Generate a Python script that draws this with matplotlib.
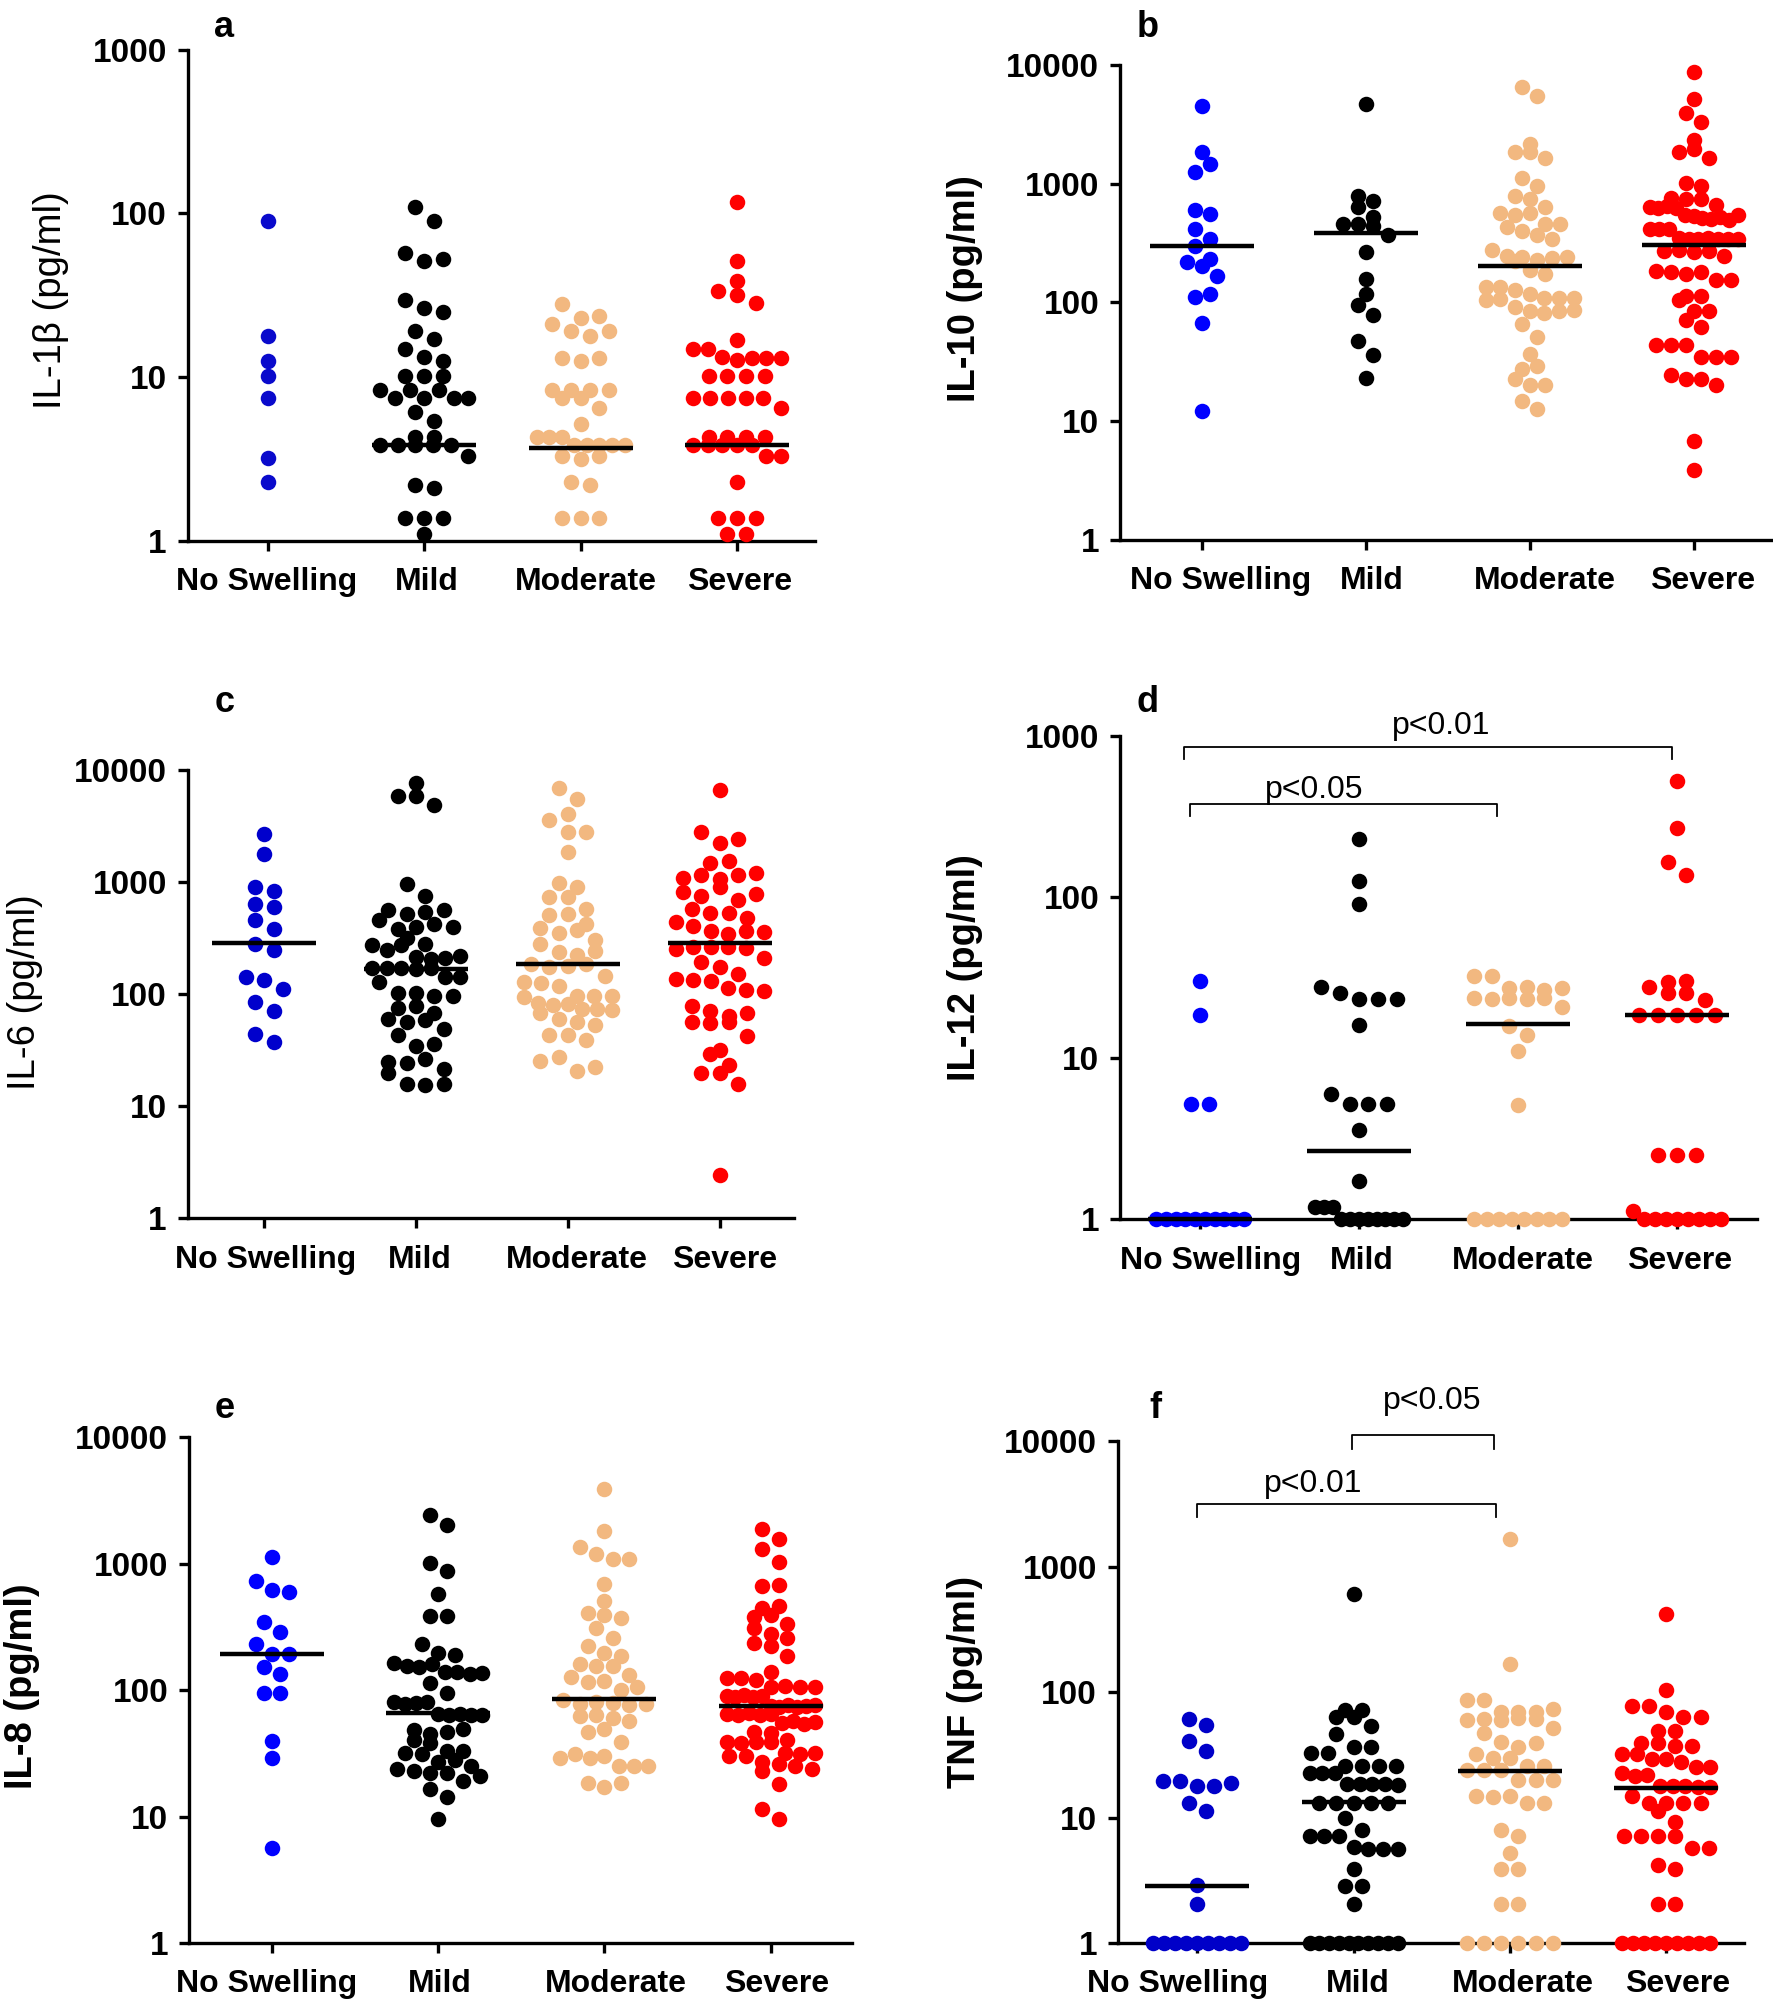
import numpy as np
import matplotlib
matplotlib.use("Agg")
import matplotlib.pyplot as plt
from matplotlib.ticker import NullLocator
from matplotlib.transforms import ScaledTranslation

plt.rcParams['font.family'] = ['Liberation Sans', 'DejaVu Sans']

# ---------------- data ----------------
categories = ["No Swelling", "Mild", "Moderate", "Severe"]

# a: IL-1beta
a_none = [90, 17.9, 12.6, 10.1, 7.5, 3.2, 2.3]
a_mild = [109, 90, 57, 51, 53, 29.6, 26.4, 25, 19, 17, 14.8, 13.3, 12.6, 10.2, 10.2, 10.2,
          8.3, 7.5, 8.3, 7.5, 8.3, 7.5, 7.5, 6.1, 5.4, 3.85, 3.85, 4.3, 3.85, 4.3, 3.85, 3.85,
          3.3, 2.2, 2.1, 1.38, 1.38, 1.38, 1.1]
a_mod = [27.9, 23, 23.6, 21, 19, 17.9, 19, 13.1, 12.6, 13.1, 8.3, 8.3, 8.3, 8.3, 7.5, 7.5,
         6.5, 5.15, 4.3, 4.3, 4.3, 3.85, 3.85, 3.85, 3.85, 3.85, 3.3, 3.15, 3.3, 2.3, 2.2,
         1.38, 1.38, 1.38]
a_sev = [118, 51, 38.7, 33.4, 31.6, 28.3, 16.8, 14.8, 14.8, 13.2, 12.7, 13, 13, 13,
         10.2, 10.2, 10.2, 10.2, 7.5, 7.5, 7.5, 7.5, 7.5, 6.5, 4.3, 4.3, 4.3, 4.3,
         3.85, 3.85, 3.85, 3.85, 3.85, 3.3, 3.3, 2.3, 1.38, 1.38, 1.38, 1.1, 1.1]
a_median = [None, 3.85, 3.7, 3.85]

# b: IL-10
b_none = [4570, 1866, 1257, 1463, 602, 554, 418, 346, 297, 233, 219, 203, 168, 111, 118, 67.6, 12.1]
b_mild = [4710, 797, 711, 635, 525, 461, 461, 441, 373, 265, 159, 118, 95, 78.7, 47, 36, 23]
b_mod = [6580, 5520, 2170, 1866, 1866, 1640, 1122, 964, 785, 750, 635, 566, 545, 566, 461, 461,
         434, 403, 373, 346, 275, 246, 240, 230, 225, 235, 240, 188, 175, 134, 134, 128, 118,
         110, 105, 108, 106, 110, 91.5, 85, 82, 85, 87, 66, 50.7, 36.8, 27.2, 29.3, 22.8,
         20, 20, 14.8, 12.6]
b_sev = [8710, 5240, 3925, 3320, 2340, 1866, 1950, 1640, 1016, 964, 760, 740, 750, 660, 640,
         620, 650, 630, 550, 540, 520, 510, 530, 500, 545, 420, 420, 420, 350, 345, 340, 350,
         345, 340, 345, 270, 275, 265, 270, 245, 185, 180, 175, 180, 155, 155, 113, 113, 105,
         85, 85, 71, 62, 44, 44, 44, 35, 35, 35, 24.5, 22.8, 22.8, 20, 6.8, 3.9]
b_median = [302, 387, 203, 308]

# c: IL-6
c_none = [2690, 1800, 914, 843, 644, 598, 464, 382, 280, 247, 142, 134, 112, 85.6, 71.6, 43.8, 37.2]
c_mild = [7760, 5830, 5830, 4870, 968, 758, 560, 520, 540, 570, 464, 380, 395, 420, 400, 321,
          284, 273, 250, 273, 215, 205, 210, 220, 170, 172, 170, 168, 170, 143, 143, 129, 103,
          103, 97, 97, 76, 78.6, 68.7, 60, 57, 59, 43.5, 49, 34.9, 36, 25, 24.2, 26.6, 21.7,
          19.7, 15.8, 15.4, 15.8]
c_mod = [6920, 5510, 4070, 3570, 2800, 2800, 1875, 976, 899, 733, 733, 583, 505, 520, 394, 421,
         349, 372, 284, 303, 240, 222, 243, 185, 175, 180, 188, 146, 129, 126, 119, 97, 97, 97,
         95, 83, 80, 82, 74.6, 74.6, 72, 68, 60.3, 56.9, 53.3, 43.5, 43.5, 38.8, 25.6, 27.3,
         20.5, 22.3]
c_sev = [6650, 2800, 2245, 2435, 1490, 1560, 1100, 1150, 1080, 1150, 1200, 820, 760, 900, 700,
         780, 583, 537, 537, 476, 440, 405, 370, 345, 370, 360, 255, 265, 265, 265, 258, 210,
         195, 175, 152, 136, 134, 131, 114, 109, 107, 79, 71, 64, 68, 57, 55, 57, 42.8, 29.6,
         32.1, 23.6, 19.7, 19.7, 15.8, 2.45]
c_median = [287, 169, 186, 287]

# d: IL-12
d_none = [29.9, 18.6, 5.16, 5.16, 1, 1, 1, 1, 1, 1, 1, 1, 1, 1]
d_mild = [229, 126, 89.6, 27.7, 25.4, 23.3, 23.3, 23.3, 16.1, 5.94, 5.16, 5.16, 5.16, 3.57,
          1.73, 1.19, 1.19, 1.19, 1, 1, 1, 1, 1, 1, 1, 1]
d_mod = [32.2, 32.2, 27, 27.5, 26.5, 27, 23.5, 23.2, 23.5, 23.2, 23.5, 20.7, 15.9, 13.9, 11,
         5.1, 1, 1, 1, 1, 1, 1, 1, 1]
d_sev = [520, 266, 165, 137, 29.6, 30, 27.7, 25.4, 25.4, 23, 18.6, 18.6, 18.6, 18.6, 18.6,
         2.5, 2.5, 2.5, 1.12, 1, 1, 1, 1, 1, 1, 1, 1]
d_median = [1.0, 2.65, 16.3, 18.6]

# e: IL-8
e_none = [1130, 730, 614, 591, 343, 286, 233, 194, 194, 151, 133, 94, 94, 39.9, 29, 5.6]
e_mild = [2440, 2020, 1013, 876, 570, 388, 388, 233, 198, 188, 165, 155, 153, 160, 138, 140,
          135, 137, 113, 95, 80, 78, 79, 80, 65, 63, 65, 64, 63, 48, 45, 47, 49, 40, 38, 33,
          32, 33, 31, 27, 28, 25, 24, 23, 22, 22, 19, 21, 16.4, 14.2, 9.5]
e_mod = [3917, 1811, 1355, 1200, 1090, 1090, 684, 508, 408, 395, 369, 307, 257, 225, 196, 185,
         160, 155, 154, 128, 131, 116, 118, 100, 105, 84, 78, 80, 79, 76, 77, 62, 63, 60, 57,
         47, 49, 39, 29, 31, 29, 30, 25, 25, 25, 18.3, 17, 18.3]
e_sev = [1880, 1566, 1306, 1021, 660, 675, 445, 465, 375, 390, 310, 335, 279, 257, 234, 225,
         187, 140, 125, 125, 120, 106, 107, 105, 106, 90, 88, 92, 88, 90, 75, 74, 76, 74, 75,
         76, 65, 64, 66, 64, 65, 55, 57, 54, 56, 47, 46, 39, 38, 39, 40, 39, 30, 32, 31, 32,
         30, 27, 26, 25, 23, 24, 18, 11.4, 9.5]
e_median = [194, 66.3, 84.3, 74.5]

# f: TNF
f_none = [61.4, 54.2, 41, 34.2, 19.4, 19.4, 17.8, 17.8, 18.8, 13, 11.2, 2.9, 2.05,
          1, 1, 1, 1, 1, 1, 1, 1, 1]
f_mild = [600, 72, 72, 62.8, 62.8, 54, 46, 36.8, 36.8, 32.5, 32.5, 26, 26, 26, 26, 22.5, 22.5,
          22.5, 18.5, 18.5, 18.5, 18.5, 18.2, 13, 13, 13, 13, 13, 10, 8, 7.2, 7.2, 7.2, 5.8,
          5.6, 5.6, 5.6, 3.88, 2.83, 2.83, 2.05, 1, 1, 1, 1, 1, 1, 1, 1, 1, 1]
f_mod = [1674, 169, 86, 86, 70, 70, 70, 74, 60, 61, 60, 62, 61, 52, 47, 40, 36.5, 39, 32.4,
         30.1, 30.1, 26, 26, 24, 24, 24, 20, 20, 20, 15, 14.5, 15, 13, 13, 8, 7.1, 5.2, 3.88,
         3.88, 2.05, 2.05, 1, 1, 1, 1, 1, 1]
f_sev = [422, 103, 78, 78, 70, 62.8, 62.8, 48.6, 48.6, 39.5, 39.5, 37, 37, 32, 32, 29.5, 29.5,
         27.5, 25.5, 25.5, 22.5, 21.6, 22, 18, 18, 18, 17.6, 17.6, 15, 13, 13, 13, 13, 11.2,
         9.3, 7.2, 7.2, 7.2, 7.2, 5.7, 5.7, 4.2, 3.88, 2.05, 2.05, 1, 1, 1, 1, 1, 1, 1, 1, 1]
f_median = [2.87, 13.2, 23.7, 17.2]

# significance brackets: (x_start, x_end, y_top, y_leg, label, text_x, text_y)
d_brackets = [(-0.10, 2.97, 853, 711, "p<0.01", 1.52, 1030),
              (-0.06, 1.87, 374, 316, "p<0.05", 0.72, 410)]
f_brackets = [(0.99, 1.90, 11170, 8700, "p<0.05", 1.50, 18100),
              (0.00, 1.91, 3165, 2500, "p<0.01", 0.745, 3945)]

# ---------------- figure ----------------
W, H, DPI = 1773, 2003, 100
fig = plt.figure(figsize=(W / DPI, H / DPI), dpi=DPI)

TAN = "#F2B880"
RED = "#FF0000"

panels = [
    dict(letter="a", data=[a_none, a_mild, a_mod, a_sev], med=a_median,
         rect=(187.6, 49.7, 814.7, 540.8), xlim=(-0.514, 3.498), ylim=(1, 1000),
         yticks=[1, 10, 100, 1000], ylabel="IL-1β (pg/ml)", ybold=False,
         blue="#0A0ACC", step=18.9, lab=(51, 300), let=(224, 37), br=[],
         ldx=[-1, 3, 5, 3]),
    dict(letter="b", data=[b_none, b_mild, b_mod, b_sev], med=b_median,
         rect=(1120, 65.3, 1771, 539.6), xlim=(-0.502, 3.473), ylim=(1, 10000),
         yticks=[1, 10, 100, 1000, 10000], ylabel="IL-10 (pg/ml)", ybold=True,
         blue="#0000FF", step=15.0, lab=(965, 289), let=(1148, 37), br=[],
         ldx=[18, 6, 15, 9]),
    dict(letter="c", data=[c_none, c_mild, c_mod, c_sev], med=c_median,
         rect=(187.6, 770.2, 793.7, 1218.4), xlim=(-0.506, 3.489), ylim=(1, 10000),
         yticks=[1, 10, 100, 1000, 10000], ylabel="IL-6 (pg/ml)", ybold=False,
         blue="#0000CC", step=18.4, lab=(25, 992), let=(225, 711.7), br=[],
         ldx=[1, 4, 9, 5]),
    dict(letter="d", data=[d_none, d_mild, d_mod, d_sev], med=d_median,
         rect=(1120, 735.6, 1757, 1219.2), xlim=(-0.503, 3.503), ylim=(1, 1000),
         yticks=[1, 10, 100, 1000], ylabel="IL-12 (pg/ml)", ybold=True,
         blue="#0000FF", step=18.9, lab=(965, 968), let=(1148, 711.7), br=d_brackets,
         ldx=[11, 3, 5, 3]),
    dict(letter="e", data=[e_none, e_mild, e_mod, e_sev], med=e_median,
         rect=(189, 1437.1, 851.8, 1943.1), xlim=(-0.501, 3.489), ylim=(1, 10000),
         yticks=[1, 10, 100, 1000, 10000], ylabel="IL-8 (pg/ml)", ybold=True,
         blue="#0000FF", step=16.5, lab=(22, 1686), let=(225, 1418), br=[],
         ldx=[-6, 1, 11, 6]),
    dict(letter="f", data=[f_none, f_mild, f_mod, f_sev], med=f_median,
         rect=(1117.8, 1441.1, 1743.7, 1943.1), xlim=(-0.508, 3.495), ylim=(1, 10000),
         yticks=[1, 10, 100, 1000, 10000], ylabel="TNF (pg/ml)", ybold=True,
         blue="#0000C8", step=17.1, lab=(965, 1682), let=(1155, 1418), br=f_brackets,
         ldx=[-20, 4, 13, 11]),
]

DIAM = 15.5           # marker diameter in px
ROWH = 0.9 * DIAM     # row height for the dot arrangement
MAXHALF = 44.0        # max half width of a row in px
MS = DIAM * 72 / DPI  # marker size in points


def arrange(ax, center, values, step):
    vals = np.asarray(values, float)
    pts = ax.transData.transform(np.column_stack([np.full(len(vals), center), vals]))
    ys = pts[:, 1]
    order = np.argsort(ys, kind="stable")
    rows, cur, y0 = [], [order[0]], ys[order[0]]
    for i in order[1:]:
        if ys[i] - y0 < ROWH:
            cur.append(i)
        else:
            rows.append(cur)
            cur, y0 = [i], ys[i]
    rows.append(cur)
    xs = np.empty(len(vals))
    for r in rows:
        r = sorted(r)
        n = len(r)
        s = step if n == 1 else min(step, 2 * MAXHALF / (n - 1))
        offs = (np.arange(n) - (n - 1) / 2) * s
        for k, idx in enumerate(r):
            xs[idx] = pts[idx, 0] + offs[k]
    back = ax.transData.inverted().transform(np.column_stack([xs, ys]))
    return back[:, 0], vals


for p in panels:
    l, t, r, b = p["rect"]
    ax = fig.add_axes([l / W, 1 - b / H, (r - l) / W, (b - t) / H])
    ax.set_yscale("log")
    ax.set_xlim(*p["xlim"])
    ax.set_ylim(*p["ylim"])
    for s in ("top", "right"):
        ax.spines[s].set_visible(False)
    for s in ("left", "bottom"):
        ax.spines[s].set_linewidth(2.4)
        ax.spines[s].set_capstyle("projecting")
    ax.set_xticks(range(len(categories)), categories, fontsize=23, fontweight="bold")
    ax.set_yticks(p["yticks"], [str(v) for v in p["yticks"]], fontsize=24, fontweight="bold")
    ax.yaxis.set_minor_locator(NullLocator())
    ax.tick_params(axis="both", width=2.4, length=7, direction="out")
    ax.tick_params(axis="x", pad=12)
    ax.tick_params(axis="y", pad=8)
    ax.patch.set_visible(False)
    for lbl, dx in zip(ax.get_xticklabels(), p["ldx"]):
        lbl.set_transform(lbl.get_transform() + ScaledTranslation(dx / DPI, 0, fig.dpi_scale_trans))

    colors = [p["blue"], "#000000", TAN, RED]
    xspan_px = (r - l) / (p["xlim"][1] - p["xlim"][0])
    half = 52.0 / xspan_px
    for i, (vals, col) in enumerate(zip(p["data"], colors)):
        xs, ys = arrange(ax, i, vals, p["step"])
        ax.plot(xs, ys, linestyle="none", marker="o", ms=MS, mfc=col, mec="none",
                clip_on=False, zorder=3)
        m = p["med"][i]
        if m is not None:
            ax.plot([i - half, i + half], [m, m], color="black", lw=3.2,
                    solid_capstyle="butt", clip_on=False, zorder=4)

    for (x0, x1, ytop, yleg, txt, tx, ty) in p["br"]:
        ax.plot([x0, x0, x1, x1], [yleg, ytop, ytop, yleg], color="black", lw=1.3,
                clip_on=False, zorder=4)
        ax.text(tx, ty, txt, ha="center", va="baseline", fontsize=23, clip_on=False)

    lx, ly = p["lab"]
    fig.text(lx / W, 1 - ly / H, p["ylabel"], rotation=90, ha="center", va="center",
             fontsize=27.5, fontweight="bold" if p["ybold"] else "normal")
    tx, ty = p["let"]
    fig.text(tx / W, 1 - ty / H, p["letter"], ha="center", va="baseline",
             fontsize=26, fontweight="bold")

fig.savefig("out.png", dpi=DPI)
